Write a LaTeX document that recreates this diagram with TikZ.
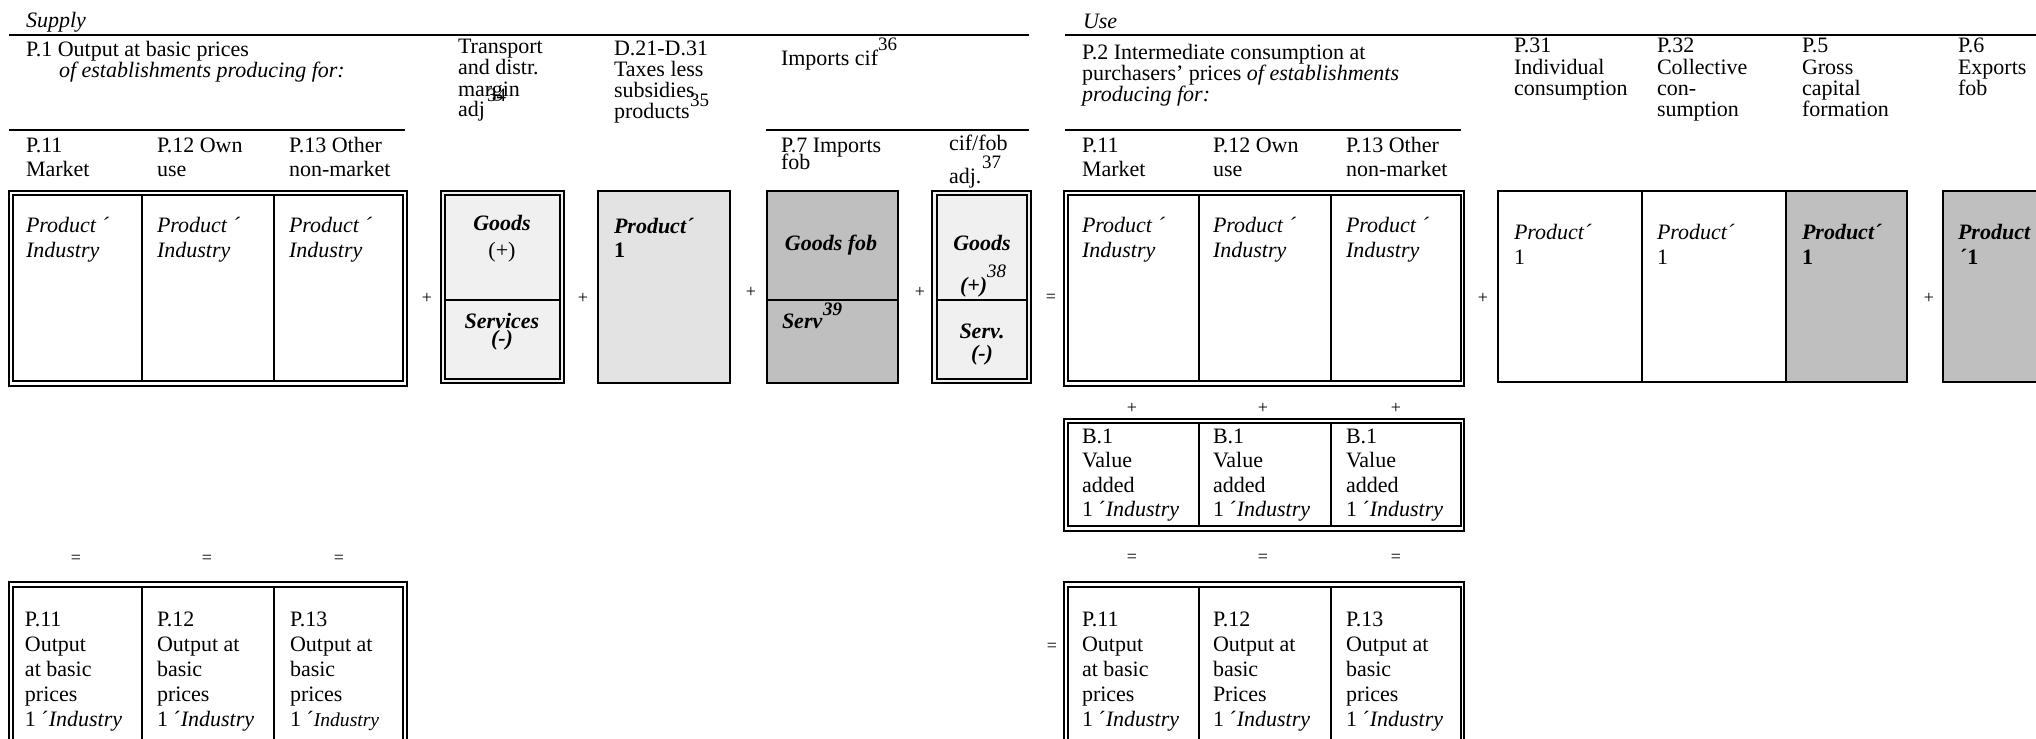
\documentclass[tikz,border=0pt]{standalone}
\usepackage{fontspec}
\setmainfont{Liberation Serif}
\definecolor{gA}{gray}{0.94}
\definecolor{gB}{gray}{0.89}
\definecolor{gC}{gray}{0.75}
\newcommand\Stack[2]{\vtop{\baselineskip=#1pt\lineskiplimit=-\maxdimen\lineskip=0pt\relax#2}}
\newcommand\hb[1]{\hbox{#1}}
\begin{document}
\begin{tikzpicture}[x=0.5pt,y=-0.5pt,
  txt/.style={inner sep=0pt, outer sep=0pt, anchor=base west, font=\fontsize{11}{12.5}\selectfont},
  ctxt/.style={txt, anchor=base},
  sup/.style={inner sep=0pt, outer sep=0pt, anchor=base west, font=\fontsize{9.5}{10}\selectfont},
  op/.style={inner sep=0pt, outer sep=0pt, anchor=center, font=\fontsize{9}{9}\selectfont},
  rulel/.style={line width=1.3pt},
  bord/.style={line width=1pt},
  thin/.style={line width=0.9pt}]
\useasboundingbox (0,0) rectangle (2036,739);
\fill[white] (0,0) rectangle (2036,739);

% ===================== SUPPLY =====================
\node[txt] (supply) at (26,27) {\textit{Supply}};
\draw[rulel] (9,35) -- (1029,35);
\node[txt] (p1) at (26,56) {\Stack{10.5}{\hb{P.1 Output at basic prices}\hb{\hspace{16.5pt}\textit{of establishments producing for:}}}};
\draw[rulel] (9,130) -- (405,130);
\node[txt] (h11) at (26,152) {\Stack{12}{\hb{P.11}\hb{Market}}};
\node[txt] (h12) at (157,152) {\Stack{12}{\hb{P.12 Own}\hb{use}}};
\node[txt] (h13) at (289,152) {\Stack{12}{\hb{P.13 Other}\hb{non-market}}};

% supply table
\draw[bord] (9,191) rectangle (407,386);
\draw[bord] (13,195) rectangle (403,381);
\draw[thin] (142,195) -- (142,381);
\draw[thin] (274,195) -- (274,381);
\node[txt] (s1) at (26,232) {\Stack{12.5}{\hb{\textit{Product ´}}\hb{\textit{Industry}}}};
\node[txt] (s2) at (157,232) {\Stack{12.5}{\hb{\textit{Product ´}}\hb{\textit{Industry}}}};
\node[txt] (s3) at (289,232) {\Stack{12.5}{\hb{\textit{Product ´}}\hb{\textit{Industry}}}};
\node[op] (plA) at (427,298) {+};

% transport margins
\node[txt] (trh) at (458,54) {\Stack{10.5}{\hb{Transport}\hb{and distr.}\hb{margin}\hb{adj}}};
\node[sup] (n34) at (487,101) {34};
\filldraw[fill=gA, bord] (441,191) rectangle (564,383);
\draw[bord] (445,195) rectangle (560,379);
\draw[bord] (445,300) -- (560,300);
\node[ctxt] (trg) at (502,230) {\textbf{\textit{Goods}}};
\node[ctxt] (trgp) at (502,257) {(+)};
\node[ctxt] (trs) at (502,328) {\textbf{\textit{Services}}};
\node[ctxt] (trsm) at (502,345) {\textbf{\textit{(-)}}};
\node[op] (plB) at (583,298) {+};

% taxes
\node[txt] (txh) at (614,55) {\Stack{10.5}{\hb{D.21-D.31}\hb{Taxes less}\hb{subsidies}\hb{products}}};
\node[sup] (n35) at (690,106) {35};
\filldraw[fill=gB, bord] (598,191) rectangle (730,383);
\node[txt] (txp) at (614,233) {\Stack{12}{\hb{\textbf{\textit{Product´}}}\hb{\textbf{1}}}};
\node[op] (plC) at (751,292) {+};

% imports
\node[txt] (imh) at (781,65) {Imports cif};
\node[sup] (n36) at (878,50) {36};
\draw[rulel] (766,130) -- (1029,130);
\node[txt] (p7) at (781,152) {\Stack{8.5}{\hb{P.7 Imports}\hb{fob}}};
\node[txt] (cifh) at (949,150) {cif/fob};
\node[txt] (adj) at (949,183) {adj.};
\node[sup] (n37) at (982,168) {37};
\filldraw[fill=gC, bord] (767,191) rectangle (898,383);
\draw[bord] (767,300) -- (898,300);
\node[ctxt] (igf) at (831,250) {\textbf{\textit{Goods fob}}};
\node[txt] (isv) at (782,328) {\textbf{\textit{Serv}}};
\node[sup] (n39) at (823,315) {\textbf{\textit{39}}};
\node[op] (plD) at (920,292) {+};

% cif/fob adj
\filldraw[fill=gA, bord] (932,191) rectangle (1031,383);
\draw[bord] (937,195) rectangle (1027,379);
\draw[bord] (937,300) -- (1027,300);
\node[ctxt] (cg) at (982,250) {\textbf{\textit{Goods}}};
\node[txt] (cgp) at (960,292) {\textbf{\textit{(+)}}};
\node[sup] (n38) at (987,277) {\textit{38}};
\node[ctxt] (cs) at (982,338) {\textbf{\textit{Serv.}}};
\node[ctxt] (csm) at (982,360) {\textbf{\textit{(-)}}};
\node[op] (eqA) at (1051,298) {=};

% supply bottom
\node[op] (eqb1) at (76,559) {=};
\node[op] (eqb2) at (207,559) {=};
\node[op] (eqb3) at (339,559) {=};
\draw[bord] (9,745) -- (9,582) -- (407,582) -- (407,745);
\draw[bord] (13,745) -- (13,587) -- (403,587) -- (403,745);
\draw[thin] (142,587) -- (142,745);
\draw[thin] (274,587) -- (274,745);
\node[txt] (o1) at (25,626) {\Stack{12.5}{\hb{P.11}\hb{Output}\hb{at basic}\hb{prices}\hb{1 ´\textit{Industry}}}};
\node[txt] (o2) at (157,626) {\Stack{12.5}{\hb{P.12}\hb{Output at}\hb{basic}\hb{prices}\hb{1 ´\textit{Industry}}}};
\node[txt] (o3) at (290,626) {\Stack{12.5}{\hb{P.13}\hb{Output at}\hb{basic}\hb{prices}\hb{1 ´\textit{\fontsize{9.8}{12}\selectfont Industry}}}};

% ===================== USE =====================
\node[txt] (use) at (1083,28) {\textit{Use}};
\draw[rulel] (1065,35) -- (2036,35);
\node[txt] (p2) at (1082,59) {\Stack{10.5}{\hb{P.2 Intermediate consumption at}\hb{purchasers’ prices \textit{of establishments}}\hb{\textit{producing for:}}}};
\draw[rulel] (1065,130) -- (1461,130);
\node[txt] (u11) at (1082,152) {\Stack{12}{\hb{P.11}\hb{Market}}};
\node[txt] (u12) at (1213,152) {\Stack{12}{\hb{P.12 Own}\hb{use}}};
\node[txt] (u13) at (1346,152) {\Stack{12}{\hb{P.13 Other}\hb{non-market}}};

\draw[bord] (1064,191) rectangle (1464,386);
\draw[bord] (1068,195) rectangle (1461,381);
\draw[thin] (1199,195) -- (1199,381);
\draw[thin] (1331,195) -- (1331,381);
\node[txt] (uc1) at (1082,232) {\Stack{12.5}{\hb{\textit{Product ´}}\hb{\textit{Industry}}}};
\node[txt] (uc2) at (1213,232) {\Stack{12.5}{\hb{\textit{Product ´}}\hb{\textit{Industry}}}};
\node[txt] (uc3) at (1346,232) {\Stack{12.5}{\hb{\textit{Product ´}}\hb{\textit{Industry}}}};
\node[op] (plE) at (1483,298) {+};

% final uses headers
\node[txt] (h31) at (1514,53) {\Stack{10.6}{\hb{P.31}\hb{Individual}\hb{consumption}}};
\node[txt] (h32) at (1657,53) {\Stack{10.6}{\hb{P.32}\hb{Collective}\hb{con-}\hb{sumption}}};
\node[txt] (h5) at (1802,53) {\Stack{10.6}{\hb{P.5}\hb{Gross}\hb{capital}\hb{formation}}};
\node[txt] (h6) at (1958,53) {\Stack{10.6}{\hb{P.6}\hb{Exports}\hb{fob}}};

\fill[gC] (1786,191) rectangle (1907,382);
\draw[bord] (1498,191) rectangle (1907,382);
\draw[thin] (1642,191) -- (1642,382);
\draw[thin] (1786,191) -- (1786,382);
\node[txt] (f1) at (1514,239) {\Stack{12.5}{\hb{\textit{Product´}}\hb{1}}};
\node[txt] (f2) at (1657,239) {\Stack{12.5}{\hb{\textit{Product´}}\hb{1}}};
\node[txt] (f3) at (1802,239) {\Stack{12.5}{\hb{\textbf{\textit{Product´}}}\hb{\textbf{1}}}};
\node[op] (plF) at (1929,298) {+};
\fill[gC] (1943,191) rectangle (2036,382);
\draw[bord] (2036,191) -- (1943,191) -- (1943,382) -- (2036,382);
\node[txt] (f4) at (1958,239) {\Stack{12.5}{\hb{\textbf{\textit{Product}}}\hb{\hspace{1pt}\textbf{´1}}}};

% value added
\node[op] (pv1) at (1132,408) {+};
\node[op] (pv2) at (1263,408) {+};
\node[op] (pv3) at (1396,408) {+};
\draw[bord] (1064,419) rectangle (1464,531);
\draw[bord] (1068,423) rectangle (1461,526);
\draw[thin] (1199,423) -- (1199,526);
\draw[thin] (1331,423) -- (1331,526);
\node[txt] (v1) at (1082,443) {\Stack{12.3}{\hb{B.1}\hb{Value}\hb{added}\hb{1 ´\textit{Industry}}}};
\node[txt] (v2) at (1213,443) {\Stack{12.3}{\hb{B.1}\hb{Value}\hb{added}\hb{1 ´\textit{Industry}}}};
\node[txt] (v3) at (1346,443) {\Stack{12.3}{\hb{B.1}\hb{Value}\hb{added}\hb{1 ´\textit{Industry}}}};

% use bottom
\node[op] (equ1) at (1132,558) {=};
\node[op] (equ2) at (1263,558) {=};
\node[op] (equ3) at (1396,558) {=};
\node[op] (eqL) at (1052,647) {=};
\draw[bord] (1064,745) -- (1064,582) -- (1464,582) -- (1464,745);
\draw[bord] (1068,745) -- (1068,587) -- (1461,587) -- (1461,745);
\draw[thin] (1199,587) -- (1199,745);
\draw[thin] (1331,587) -- (1331,745);
\node[txt] (w1) at (1082,626) {\Stack{12.5}{\hb{P.11}\hb{Output}\hb{at basic}\hb{prices}\hb{1 ´\textit{Industry}}}};
\node[txt] (w2) at (1213,626) {\Stack{12.5}{\hb{P.12}\hb{Output at}\hb{basic}\hb{Prices}\hb{1 ´\textit{Industry}}}};
\node[txt] (w3) at (1346,626) {\Stack{12.5}{\hb{P.13}\hb{Output at}\hb{basic}\hb{prices}\hb{1 ´\textit{Industry}}}};
\end{tikzpicture}
\end{document}
